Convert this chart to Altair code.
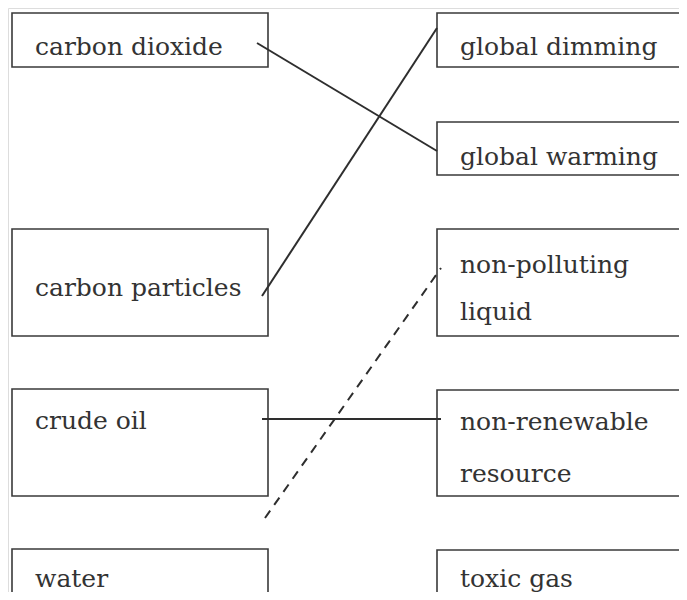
import altair as alt
import pandas as pd

# Boxes (pixel coordinates of the diagram)
box_names = ["carbon dioxide", "carbon particles", "crude oil", "water",
             "global dimming", "global warming", "non-polluting liquid",
             "non-renewable resource", "toxic gas"]
box_x1 = [12, 12, 12, 12, 437, 437, 437, 437, 437]
box_x2 = [268, 268, 268, 268, 720, 720, 720, 720, 720]
box_y1 = [13, 229, 389, 549, 13, 122, 229, 390, 550]
box_y2 = [67, 336, 496, 640, 67, 175, 336, 496, 640]

# Text lines
text_labels = ["carbon dioxide", "carbon particles", "crude oil", "water",
               "global dimming", "global warming", "non-polluting", "liquid",
               "non-renewable", "resource", "toxic gas"]
text_x = [35, 35, 35, 35, 460, 460, 460, 460, 460, 460, 460]
text_y = [55, 296, 429, 587, 55, 165, 273, 320, 430, 482, 587]

# Connecting lines
line_x1 = [257, 262, 262, 265]
line_y1 = [43, 296, 419, 518]
line_x2 = [437, 437, 441, 441]
line_y2 = [151, 28, 419, 268]
line_dashed = [False, False, False, True]

W, H = 671, 584
xs = alt.Scale(domain=[8, 8 + W], nice=False, zero=False)
ys = alt.Scale(domain=[8, 8 + H], nice=False, zero=False, reverse=True)

boxes = pd.DataFrame({"name": box_names, "x1": box_x1, "x2": box_x2,
                      "y1": box_y1, "y2": box_y2})
texts = pd.DataFrame({"label": text_labels, "x": text_x, "y": text_y})
lines = pd.DataFrame({"x1": line_x1, "y1": line_y1, "x2": line_x2,
                      "y2": line_y2, "dashed": line_dashed})

box_layer = alt.Chart(boxes).mark_rect(
    fill="white", stroke="#3a3a3a", strokeWidth=1.6, clip=True
).encode(
    x=alt.X("x1:Q", scale=xs, axis=None),
    x2="x2:Q",
    y=alt.Y("y1:Q", scale=ys, axis=None),
    y2="y2:Q",
)

text_layer = alt.Chart(texts).mark_text(
    align="left", baseline="alphabetic", font="DejaVu Serif",
    fontSize=25, color="#333333"
).encode(
    x=alt.X("x:Q", scale=xs, axis=None),
    y=alt.Y("y:Q", scale=ys, axis=None),
    text="label:N",
)

solid = alt.Chart(lines[~lines["dashed"]]).mark_rule(
    color="#2e2e2e", strokeWidth=2
).encode(
    x=alt.X("x1:Q", scale=xs, axis=None),
    y=alt.Y("y1:Q", scale=ys, axis=None),
    x2="x2:Q", y2="y2:Q",
)

dashed = alt.Chart(lines[lines["dashed"]]).mark_rule(
    color="#2e2e2e", strokeWidth=2, strokeDash=[9, 7]
).encode(
    x=alt.X("x1:Q", scale=xs, axis=None),
    y=alt.Y("y1:Q", scale=ys, axis=None),
    x2="x2:Q", y2="y2:Q",
)

chart = alt.layer(box_layer, solid, dashed, text_layer).properties(
    width=W, height=H, padding=0,
    autosize=alt.AutoSizeParams(type="none"),
).configure_view(stroke="transparent", strokeWidth=0).configure(background="white")

chart.save("out.html", embed_options={"renderer": "svg", "actions": False})
